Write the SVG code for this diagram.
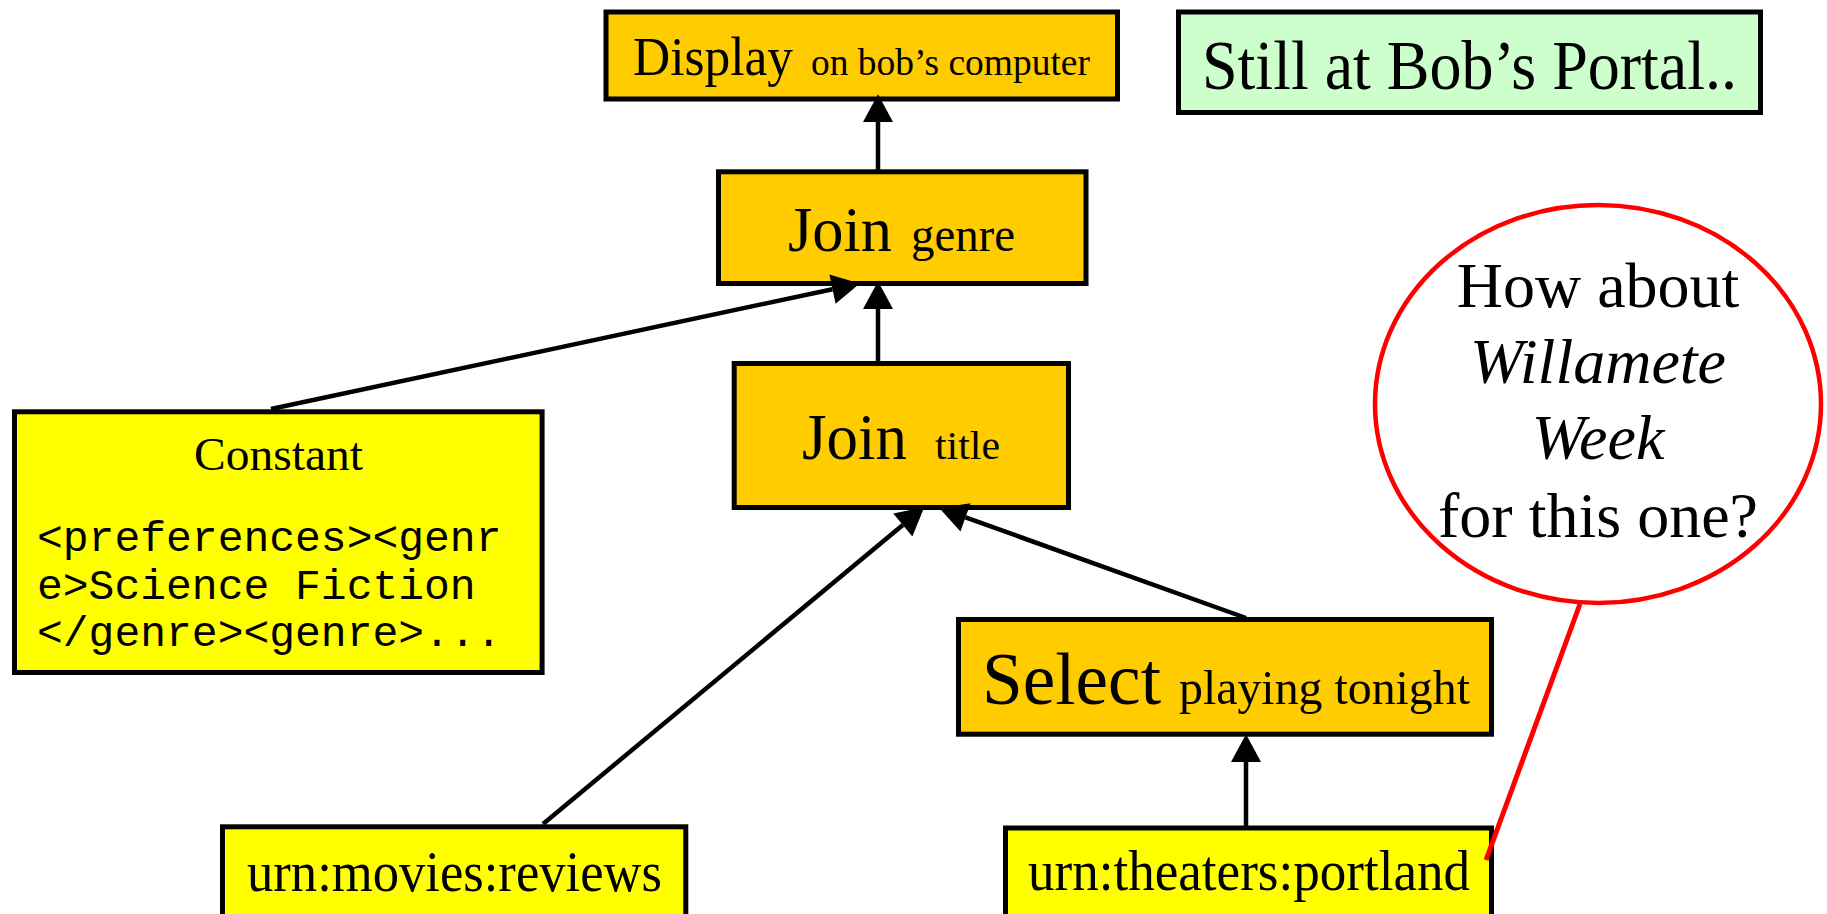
<svg xmlns="http://www.w3.org/2000/svg" width="1827" height="914" viewBox="0 0 1827 914">
<defs>
<style>
.box{stroke:#000;stroke-width:5}
.op{fill:#FFCC00}
.src{fill:#FFFF00}
.note{fill:#CCFFCC}
text{font-family:"Liberation Serif","Times New Roman",serif;fill:#000}
.mono{font-family:"Liberation Mono","Courier New",monospace;font-size:43px}
.conn{stroke:#000;stroke-width:4.5;fill:none}
.red{stroke:#FF0000;stroke-width:5;fill:none}
</style>
<marker id="arr" markerUnits="userSpaceOnUse" markerWidth="30" markerHeight="30" refX="0" refY="14" orient="auto" viewBox="0 0 26 28">
<path d="M0,0 L26,14 L0,28 z" fill="#000"/>
</marker>
</defs>
<rect width="1827" height="914" fill="#fff"/>

<g id="display">
<rect class="box op" x="606" y="12" width="511.5" height="87"/>
<text x="633" y="75" font-size="55" textLength="160" lengthAdjust="spacingAndGlyphs">Display</text>
<text x="811" y="75" font-size="38" textLength="279" lengthAdjust="spacingAndGlyphs">on bob’s computer</text>
</g>

<g id="portal-note">
<rect class="box note" x="1178.5" y="12" width="582" height="100.5"/>
<text x="1202" y="89" font-size="69" textLength="535" lengthAdjust="spacingAndGlyphs">Still at Bob’s Portal..</text>
</g>

<g id="join-genre">
<rect class="box op" x="718.5" y="171.8" width="367.5" height="111.7"/>
<text x="788" y="251" font-size="63" textLength="104" lengthAdjust="spacingAndGlyphs">Join</text>
<text x="911" y="251" font-size="49" textLength="104" lengthAdjust="spacingAndGlyphs">genre</text>
</g>

<g id="join-title">
<rect class="box op" x="734.2" y="363.5" width="334.3" height="144"/>
<text x="802" y="459" font-size="66" textLength="105" lengthAdjust="spacingAndGlyphs">Join</text>
<text x="935" y="459" font-size="40" textLength="65" lengthAdjust="spacingAndGlyphs">title</text>
</g>

<g id="constant">
<rect class="box src" x="14.5" y="411.8" width="527.6" height="260.7"/>
<text x="194" y="470" font-size="47" textLength="169" lengthAdjust="spacingAndGlyphs">Constant</text>
<text class="mono" x="37" y="551">&lt;preferences&gt;&lt;genr</text>
<text class="mono" x="37" y="599">e&gt;Science Fiction</text>
<text class="mono" x="37" y="646">&lt;/genre&gt;&lt;genre&gt;...</text>
</g>

<g id="select">
<rect class="box op" x="958.5" y="619.5" width="533" height="114.7"/>
<text x="982" y="704" font-size="75" textLength="179" lengthAdjust="spacingAndGlyphs">Select</text>
<text x="1179" y="704" font-size="49" textLength="291" lengthAdjust="spacingAndGlyphs">playing tonight</text>
</g>

<g id="urn-movies">
<rect class="box src" x="222.5" y="826.8" width="463.3" height="120"/>
<text x="247" y="891" font-size="56" textLength="415" lengthAdjust="spacingAndGlyphs">urn:movies:reviews</text>
</g>

<g id="urn-theaters">
<rect class="box src" x="1005.5" y="828" width="486" height="120"/>
<text x="1028" y="890" font-size="56" textLength="442" lengthAdjust="spacingAndGlyphs">urn:theaters:portland</text>
</g>

<g id="callout">
<ellipse cx="1598" cy="404" rx="223" ry="199" fill="#fff" stroke="#FF0000" stroke-width="4.5"/>
<text x="1598" y="307" font-size="64" text-anchor="middle">How about</text>
<text x="1598" y="383" font-size="64" text-anchor="middle" font-style="italic">Willamete</text>
<text x="1598" y="459" font-size="64" text-anchor="middle" font-style="italic">Week</text>
<text x="1598" y="537" font-size="64" text-anchor="middle">for this one?</text>
</g>

<g id="connectors">
<line class="conn" x1="878" y1="171" x2="878" y2="122" marker-end="url(#arr)"/>
<line class="conn" x1="878" y1="363" x2="878" y2="309" marker-end="url(#arr)"/>
<line class="conn" x1="271" y1="409" x2="832.5" y2="289.2" marker-end="url(#arr)"/>
<line class="conn" x1="543" y1="824" x2="902.8" y2="525" marker-end="url(#arr)"/>
<line class="conn" x1="1246" y1="618" x2="965.5" y2="517.4" marker-end="url(#arr)"/>
<line class="conn" x1="1246" y1="826" x2="1246" y2="762" marker-end="url(#arr)"/>
<line class="red" x1="1580" y1="604" x2="1486" y2="860"/>
</g>
</svg>
